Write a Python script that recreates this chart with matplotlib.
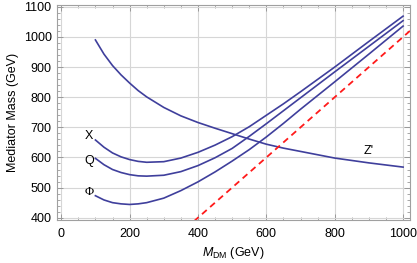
import numpy as np
import matplotlib
matplotlib.use("Agg")
import matplotlib.pyplot as plt
from matplotlib import ticker

plt.rcParams['font.family'] = ['Liberation Sans', 'DejaVu Sans']
plt.rcParams['mathtext.fontset'] = 'custom'
plt.rcParams['mathtext.it'] = 'Liberation Sans:italic'
plt.rcParams['mathtext.rm'] = 'Liberation Sans'

# dark matter mass (GeV) and mediator mass curves
m_dm = [100, 125, 150, 175, 200, 225, 250, 300, 350, 400, 450, 500, 550, 600, 650, 700, 800, 900, 1000]
zprime = [990, 943, 905, 874, 847, 822, 801, 766, 738, 716, 697, 679, 661, 644, 631, 620, 598, 582, 568]
med_x = [658, 634, 615, 602, 593, 587, 584, 586, 598, 617, 641, 669, 702, 740, 778, 818, 900, 985, 1069]
med_q = [597, 576, 560, 550, 543, 539, 538, 541, 553, 573, 599, 630, 670, 712, 755, 798, 884, 969, 1054]
med_phi = [473, 459, 450, 446, 444, 446, 450, 465, 490, 519, 552, 588, 626, 668, 713, 760, 851, 943, 1036]

# kinematic line M_med = M_DM
diag_x = [388, 1025]
diag_y = [388, 1025]

blue = '#3f3f9c'

fig = plt.figure(figsize=(4.17, 2.63), dpi=100)
ax = fig.add_axes([0.137, 0.163, 0.846, 0.818])

for y in (zprime, med_x, med_q, med_phi):
    ax.plot(m_dm, y, color=blue, lw=1.2, solid_joinstyle='round')
ax.plot(diag_x, diag_y, color='#ff1a1a', lw=1.3, ls=(0, (3.5, 2.5)))

ax.text(82, 671, 'X', fontsize=9, ha='center', va='center')
ax.text(82, 589, 'Q', fontsize=9, ha='center', va='center')
ax.text(82, 487, '\u03a6', fontsize=9, ha='center', va='center', family=['Liberation Serif'])
ax.text(898, 623, "Z'", fontsize=9, ha='center', va='center')

ax.set_xlim(-12, 1020)
ax.set_ylim(392, 1106)
ax.xaxis.set_major_locator(ticker.MultipleLocator(200))
ax.xaxis.set_minor_locator(ticker.MultipleLocator(50))
ax.yaxis.set_major_locator(ticker.MultipleLocator(100))
ax.yaxis.set_minor_locator(ticker.MultipleLocator(20))
ax.tick_params(which='both', direction='in', top=True, right=True, color='#999999', labelsize=9)
ax.tick_params(which='major', length=4, width=0.7)
ax.tick_params(which='minor', length=2, width=0.6)
ax.tick_params(axis='x', which='major', pad=6)
ax.tick_params(axis='y', which='major', pad=4)
ax.grid(True, which='major', color='#d6d6d6', lw=0.8)
ax.set_axisbelow(True)
for s in ax.spines.values():
    s.set_color('#a0a0a0')
    s.set_linewidth(0.8)

ax.set_xlabel(r'$M_{\mathrm{DM}}$ (GeV)', fontsize=9, labelpad=3)
ax.set_ylabel('Mediator Mass (GeV)', fontsize=9, labelpad=3)

fig.savefig('out.png', dpi=100)
